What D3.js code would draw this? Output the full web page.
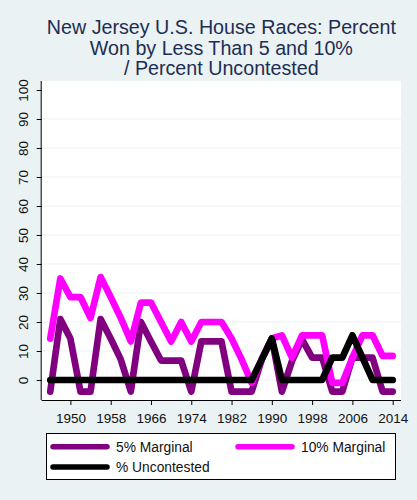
<!DOCTYPE html>
<html>
<head>
<meta charset="utf-8">
<script src="https://cdn.jsdelivr.net/npm/d3@7"></script>
<style>
  html, body { margin: 0; padding: 0; background: #EAF2F3; }
  svg { display: block; }
  text { font-family: "Liberation Sans", Arial, sans-serif; }
</style>
</head>
<body>
<svg id="chart" width="417" height="500"></svg>
<script>
const years = [1946,1948,1950,1952,1954,1956,1958,1960,1962,1964,1966,1968,1970,1972,1974,1976,1978,1980,1982,1984,1986,1988,1990,1992,1994,1996,1998,2000,2002,2004,2006,2008,2010,2012,2014];
const marginal5 = [-4,21,14.3,-4,-4,21,14.3,7.1,-4,20,13.3,6.7,6.7,6.7,-4,13.3,13.3,13.3,-4,-4,-4,7.1,14.3,-4,6.5,14,7.7,7.7,-4,-4,7.7,7.7,7.7,-4,-4];
const marginal10 = [14.3,35,28.6,28.6,21.4,35.5,28.6,21.4,13.3,26.7,26.7,20,13.3,20,13.3,20,20,20,14.3,7.1,-1,7.1,14.3,15.4,7.7,15.4,15.4,15.4,-1,-1,7.7,15.4,15.4,8.3,8.3];
const uncontested = [0,0,0,0,0,0,0,0,0,0,0,0,0,0,0,0,0,0,0,0,0,7.1,14.3,0,0,0,0,0,7.7,7.7,15.4,7.7,0,0,0];
const xTicks = [1950,1958,1966,1974,1982,1990,1998,2006,2014];
const yTicks = [0,10,20,30,40,50,60,70,80,90,100];
const titleLines = ["New Jersey U.S. House Races: Percent","Won by Less Than 5 and 10%","/ Percent Uncontested"];
const seriesNames = ["5% Marginal","10% Marginal","% Uncontested"];
const seriesColors = ["#800080","#FF00FF","#000000"];

const svg = d3.select("#chart");
const L = 41.7, R = 401, T = 81, B = 400;
const x = d3.scaleLinear().domain([1944.3, 2015.65]).range([L, R]);
const y = d3.scaleLinear().domain([-6.9, 103.1]).range([B, T]);

// plot region
svg.append("rect").attr("x", L).attr("y", T).attr("width", R - L).attr("height", B - T).attr("fill", "#fff");

// grid
svg.append("g").selectAll("line").data(yTicks.filter(d => d < 100)).join("line")
  .attr("x1", L).attr("x2", R).attr("y1", d => y(d)).attr("y2", d => y(d))
  .attr("stroke", "#EAF2F3").attr("stroke-width", 1);

// title
svg.append("g").selectAll("text").data(titleLines).join("text")
  .attr("x", (L + R) / 2).attr("y", (d, i) => 34 + i * 20.5)
  .attr("text-anchor", "middle").attr("font-size", 19.7).attr("fill", "#1E2D53")
  .text(d => d);

// series
const lineGen = vals => d3.line().x((d, i) => x(years[i])).y(d => y(d))(vals);
[marginal5, marginal10, uncontested].forEach((vals, k) => {
  svg.append("path").attr("d", lineGen(vals)).attr("fill", "none")
    .attr("stroke", seriesColors[k]).attr("stroke-width", 6.7)
    .attr("stroke-linejoin", "round").attr("stroke-linecap", "round");
});

// axes
const xAxis = d3.axisBottom(x).tickValues(xTicks).tickFormat(d3.format("d")).tickSize(5).tickPadding(8);
const gx = svg.append("g").attr("transform", `translate(0,${B})`).call(xAxis);
gx.select(".domain").attr("d", `M${L},0.5H${R}`).attr("stroke", "#000");
gx.selectAll("text").attr("font-size", 13.5).attr("fill", "#111").attr("font-family", "Liberation Sans, Arial, sans-serif");
gx.selectAll(".tick line").attr("stroke", "#000");

const yAxis = d3.axisLeft(y).tickValues(yTicks).tickSize(5).tickFormat(d3.format("d"));
const gy = svg.append("g").attr("transform", `translate(${L},0)`).call(yAxis);
gy.select(".domain").attr("d", `M-0.5,${T}V${B}`).attr("stroke", "#000");
gy.selectAll(".tick line").attr("stroke", "#000");
gy.selectAll("text").attr("font-size", 13.5).attr("fill", "#111")
  .attr("font-family", "Liberation Sans, Arial, sans-serif")
  .attr("x", null).attr("dy", null)
  .attr("text-anchor", "middle")
  .attr("transform", "translate(-13.5,0) rotate(-90)");

// legend
const lg = svg.append("g");
lg.append("rect").attr("x", 46.5).attr("y", 433.5).attr("width", 349).attr("height", 46)
  .attr("fill", "#fff").attr("stroke", "#000").attr("stroke-width", 1);
const legPos = [[51, 446.7], [236, 446.7], [51, 467]];
seriesNames.forEach((n, k) => {
  const [lx, ly] = legPos[k];
  lg.append("line").attr("x1", lx + 2).attr("x2", lx + 56).attr("y1", ly).attr("y2", ly)
    .attr("stroke", seriesColors[k]).attr("stroke-width", 5.5).attr("stroke-linecap", "round");
  lg.append("text").attr("x", lx + 65).attr("y", ly + 5.3).attr("font-size", 13.8).attr("fill", "#111").text(n);
});
</script>
</body>
</html>
